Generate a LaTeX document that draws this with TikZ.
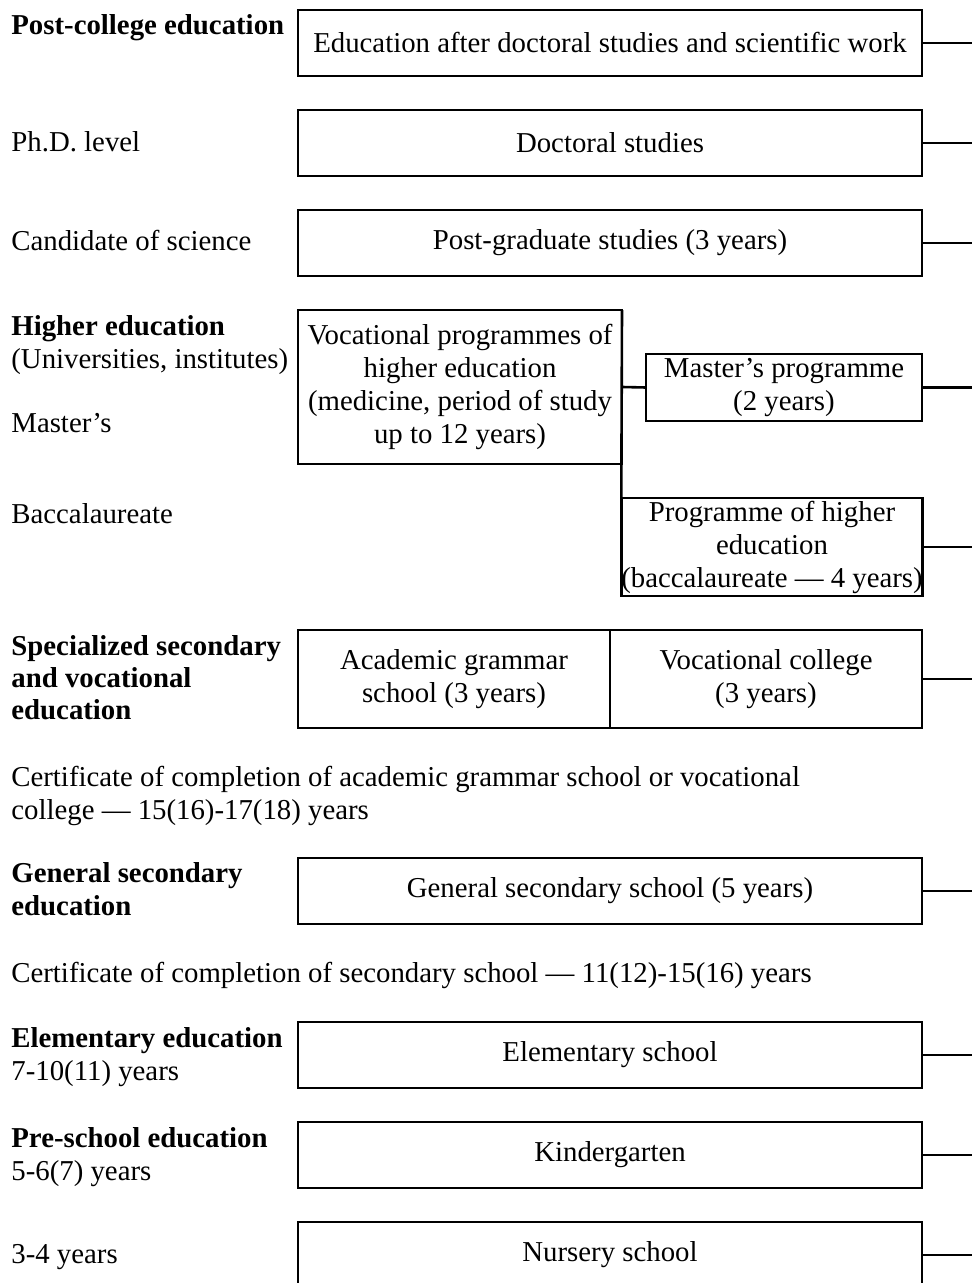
\documentclass[tikz,border=0pt]{standalone}
\usepackage{fontspec}
\setmainfont{Liberation Serif}
\usetikzlibrary{positioning}

\begin{document}
\begin{tikzpicture}
        [
        x=0.5pt, y=-0.5pt,
        every node/.style={font=\fontsize{14.4}{16.5}\selectfont},
        box/.style={draw,line width=1.3pt,align=center,inner sep=0pt,outer sep=0pt,minimum width=312pt,minimum height=33pt},
        lvl/.style={anchor=base west,align=left,inner sep=0pt},
        stub/.style={line width=1.3pt}
        ]
    \useasboundingbox (0,0) rectangle (972,1283);
    \coordinate (rim) at (972,0);

    \node[box] (postcol) at (610,43) {Education after doctoral studies and scientific work};
    \node[box] (doct) at (610,143) {Doctoral studies};
    \node[box] (postgrad) at (610,243) {Post-graduate studies (3 years)};
    \node[box,minimum width=162pt,minimum height=77pt] (vocprog) at (460,387)
        {Vocational programmes of\\higher education\\(medicine, period of study\\up to 12 years)};
    \node[box,minimum width=138pt,minimum height=33.5pt] (master) at (784,387.5) {Master's programme\\(2 years)};
    \node[box,minimum width=150pt,minimum height=49pt] (bacc) at (772,547)
        {Programme of higher\\education\\(baccalaureate --- 4 years)};
    \node[box,minimum width=156pt,minimum height=49pt] (gymn) at (454,679) {Academic grammar\\school (3 years)};
    \node[box,minimum width=156pt,minimum height=49pt] (college) at (766,679) {Vocational college\\(3 years)};
    \node[box] (general) at (610,891) {General secondary school (5 years)};
    \node[box] (elem) at (610,1055) {Elementary school};
    \node[box] (kinder) at (610,1155) {Kindergarten};
    \node[box] (nursery) at (610,1255) {Nursery school};

    \node[lvl] (lpostcol) at (11,35) {\textbf{Post-college education}};
    \node[lvl] (lphd) at (11,152) {Ph.D. level};
    \node[lvl] (lcand) at (11,251) {Candidate of science};
    \node[lvl] (lhigher) at (11,368) {\textbf{Higher education}\\(Universities, institutes)};
    \node[lvl] (lmaster) at (11,432) {Master's};
    \node[lvl] (lbacc) at (11,523) {Baccalaureate};
    \node[lvl,font=\fontsize{14.4}{16}\selectfont] (lspec) at (11,719)
        {\textbf{Specialized secondary}\\\textbf{and vocational}\\\textbf{education}};
    \node[lvl] (cert1) at (11,819)
        {Certificate of completion of academic grammar school or vocational\\college --- 15(16)-17(18) years};
    \node[lvl] (lgeneral) at (11,915) {\textbf{General secondary}\\\textbf{education}};
    \node[lvl] (cert2) at (11,982) {Certificate of completion of secondary school --- 11(12)-15(16) years};
    \node[lvl] (lelem) at (11,1080) {\textbf{Elementary education}\\7-10(11) years};
    \node[lvl] (lkinder) at (11,1180) {\textbf{Pre-school education}\\5-6(7) years};
    \node[lvl] (lnursery) at (11,1263) {3-4 years};

    \draw[stub] (vocprog.east) -- (master.west);
    \draw[stub] (vocprog.north east) -- (bacc.north west);
    \foreach \n in {postcol,doct,postgrad,master,bacc,college,general,elem,kinder,nursery}
        \draw[stub] (\n.east) -- (\n.east -| rim);
    \end{tikzpicture}
\end{document}
